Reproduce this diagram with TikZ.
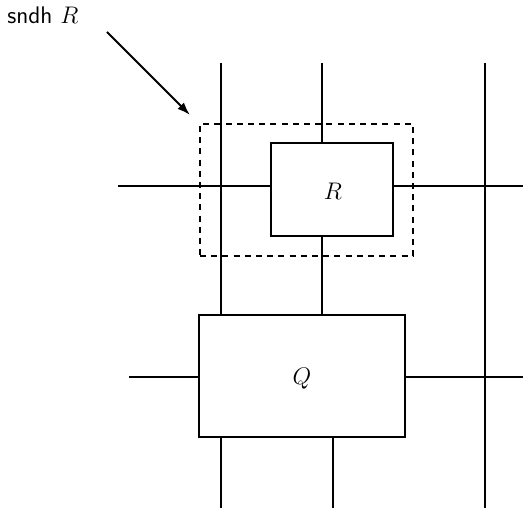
\documentclass[tikz,border=0pt]{standalone}
\usetikzlibrary{arrows.meta}
\begin{document}
\begin{tikzpicture}[x=0.5pt,y=-0.5pt,
  wire/.style={line width=1pt},
  blockbox/.style={draw,line width=1pt,fill=none,inner sep=0pt},
  nbhd/.style={draw,line width=1pt,dash pattern=on 3pt off 2.6pt,inner sep=0pt,minimum width=106.5pt,minimum height=66pt},
  lbl/.style={font=\fontsize{12}{14}\selectfont}]
\useasboundingbox (0,0) rectangle (523,513);
% boxes
\node[nbhd] (N) at (306.5,190) {};
\node[blockbox,minimum width=61pt,minimum height=46.5pt] (R) at (332,189.5) {};
\node[lbl,anchor=base] (Rl) at (333,199) {$R$};
\node[blockbox,minimum width=103pt,minimum height=61pt] (Q) at (302,376) {};
\node[lbl,anchor=base] (Ql) at (302,384) {$Q$};
% coordinates of free ends
\coordinate (a1) at (221,63);
\coordinate (a2) at (221,508);
\coordinate (b1) at (322,63);
\coordinate (c1) at (485,63);
\coordinate (c2) at (485,508);
\coordinate (d2) at (333,508);
\coordinate (h1) at (118,186);
\coordinate (h2) at (523,186);
\coordinate (k1) at (129,377);
\coordinate (k2) at (523,377);
% wires
\draw[wire] (a1) -- (a1 |- Q.north);
\draw[wire] (a2) -- (a2 |- Q.south);
\draw[wire] (b1) -- (b1 |- R.north);
\draw[wire] (b1 |- R.south) -- (b1 |- Q.north);
\draw[wire] (d2) -- (d2 |- Q.south);
\draw[wire] (c1) -- (c2);
\draw[wire] (h1) -- (h1 -| R.west);
\draw[wire] (h2 -| R.east) -- (h2);
\draw[wire] (k1) -- (k1 -| Q.west);
\draw[wire] (k2 -| Q.east) -- (k2);
% label and arrow
\node[lbl,anchor=base west,inner sep=0pt] (L) at (7,24) {\textsf{sndh} $R$};
\coordinate (s) at (107,32);
\coordinate (t) at (190,115);
\draw[wire,-{Latex[length=6.5pt,width=4.5pt]}] (s) -- (t);
\end{tikzpicture}
\end{document}
